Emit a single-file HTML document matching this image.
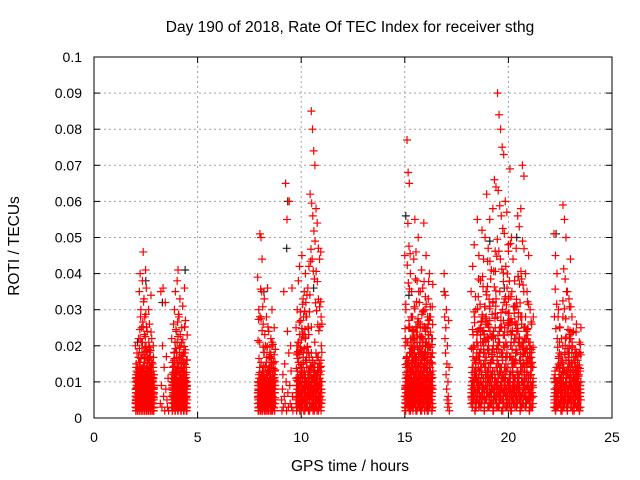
<!DOCTYPE html>
<html><head><meta charset="utf-8"><style>
body{margin:0;background:#fff;}
svg{display:block;font-family:"Liberation Sans",sans-serif;}
</style></head><body>
<svg id="c" width="640" height="480"></svg>
<script>
const xTicks=[0,5,10,15,20,25];
const yTicks=[0,0.01,0.02,0.03,0.04,0.05,0.06,0.07,0.08,0.09,0.1];
const yTickLabels=["0","0.01","0.02","0.03","0.04","0.05","0.06","0.07","0.08","0.09","0.1"];
// passes: [startHour,endHour], values in 1e-3 TECU/min, evenly sampled across pass
const passA=[2.0,2.9];
const passAlow=[3,5,2,8,4,6,3,10,2,7,5,12,3,4,9,2,6,11,3,5,8,2,4,7,13,3,6,2,9,5,4,10,3,7,2,6,12,4,3,8,5,2,9,6,3,11,4,7,2,5,8,3,14,6,4,2,9,5,3,7,10,4,2,6,3,8,5,12,2,4];
const passAhigh=[20,15,18,12,22,35,40,30,25,38,46,33,28,41,36,24,19,30,26,17,34,22,15,20,12];
const passB=[3.2,3.6];
const passBvals=[4,35,9,3,20,36,6,14,2,32,8,17,5,3,11,2];
const passC=[3.75,4.5];
const passClow=[3,6,2,9,4,7,3,11,5,2,8,4,13,6,3,10,2,5,7,4,12,3,6,9,2,15,5,3,8,4,11,2,6,18,3,7,4,10,2,5];
const passChigh=[22,14,26,30,35,24,38,41,28,33,20,25,31,18,36,27,16,23];
const passD=[7.9,8.75];
const passDlow=[4,2,7,3,9,5,2,11,6,3,8,2,14,4,7,3,10,5,2,6,12,3,8,4,2,9,5,13,3,6,2,10,4,7,3,11,5,2,8,4];
const passDhigh=[39,30,51,50,44,26,33,20,28,36,24,17,22,30,15,25,19];
const passE=[9.05,9.6];
const passEvals=[5,2,8,12,3,35,6,15,4,65,10,2,55,24,7,3,18,60,9,4,20,13,3,36,6,2];
const passF=[9.75,11.0];
const passFlow=[4,2,8,5,11,3,7,14,2,9,6,3,12,5,8,2,16,4,10,3,7,13,5,2,9,6,18,3,11,4,8,2,15,5,7,3,12,6,2,9,4,10,3,20,5];
const passFhigh=[25,30,38,42,27,45,33,35,40,28,36,42,62,85,80,74,70,58,54,47,44,46,26];
const passG=[15.0,16.35];
const passGlow=[3,6,2,9,5,12,4,8,15,3,11,6,2,18,7,4,13,9,3,20,5,10,2,16,8,4,22,6,12,3,9,17,5,2,14,7,11,4,19,6,3,10,25,8,5,13,2,16,7,21,4,9,12,3,18,6,24,10,5,15,8,2,20,11,4,27,7,14,3,9,17,5,12,6,2,22,8];
const passGhigh=[45,30,77,68,65,40,35,28,44,55,46,38,50,32,26,41,36,54,30,45,25,33,40,28,22,37];
const passH=[16.9,17.15];
const passHvals=[40,35,28,22,34,18,25,12,30,8,15,5,20,3,10,6,27,4,14,2];
const passI=[18.2,21.2];
const passIlow=[4,9,3,14,6,20,2,11,7,17,5,24,8,3,13,10,19,4,28,6,15,2,22,9,12,5,26,7,18,3,31,11,4,16,8,23,2,13,6,29,10,4,20,7,15,3,25,9,5,18,12,2,27,8,14,6,21,3,17,10,33,5,12,7,24,2,19,9,4,15,11,6,22,3,13,8,28,5,16,2,20,10,7,14,4,25,6,18,3,11,9,23,5,15,2,12,7,19,4,10,6];
const passIhigh=[35,42,48,30,55,45,38,52,44,50,62,47,55,41,58,66,64,90,84,80,75,73,60,57,48,69,50,44,38,47,56,53,58,70,67,40,35,45,30,26,28];
const passJ=[22.2,23.5];
const passJlow=[3,7,2,10,5,14,3,8,18,4,11,6,2,20,9,3,13,5,16,7,2,12,4,22,6,9,3,15,5,8,2,11,4,17,6,3,10,7,2,13,5];
const passJhigh=[51,45,40,30,25,22,59,55,50,35,33,44,28,24,19,26,17,21,25];
const blackPts=[[2.1,21],[2.5,38],[3.3,32],[4.4,41],[9.3,47],[9.35,60],[10.6,36],[15.05,56],[15.2,34],[19.1,49],[19.8,36],[20.4,50],[22.3,51],[16.9,35],[8.2,35]];

const svg=document.getElementById('c');
const NS='http://www.w3.org/2000/svg';
const X0=94,X1=612,Y0=418,Y1=57;
const sx=h=>X0+(h/25)*(X1-X0);
const sy=v=>Y0-(v/0.1)*(Y0-Y1);
function mk(tag,attrs,parent){const e=document.createElementNS(NS,tag);for(const k in attrs)e.setAttribute(k,attrs[k]);(parent||svg).appendChild(e);return e;}

const grid=mk('g',{});


xTicks.forEach(t=>{const x=sx(t);
 if(t>0&&t<25)mk('line',{x1:x,y1:Y0,x2:x,y2:Y1,stroke:'#a0a0a0','stroke-dasharray':'2,3','stroke-width':1},grid);
 mk('line',{x1:x,y1:Y0,x2:x,y2:Y0-6,stroke:'#000'},grid);mk('line',{x1:x,y1:Y1,x2:x,y2:Y1+6,stroke:'#000'},grid);
 const tx=mk('text',{x:x,y:442,'text-anchor':'middle','font-size':14});tx.textContent=t;
 
 
});
yTicks.forEach((t,i)=>{const y=sy(t);
 if(i>0&&i<yTicks.length-1)mk('line',{x1:X0,y1:y,x2:X1,y2:y,stroke:'#a0a0a0','stroke-dasharray':'2,3','stroke-width':1},grid);
 mk('line',{x1:X0,y1:y,x2:X0+6,y2:y,stroke:'#000'},grid);mk('line',{x1:X1,y1:y,x2:X1-6,y2:y,stroke:'#000'},grid);
 const tx=mk('text',{x:82,y:y+5,'text-anchor':'end','font-size':14});tx.textContent=yTickLabels[i];
 
 
});

const marks=mk('g',{});


function plus(h,v,col){const x=sx(h),y=sy(v);
 mk('path',{d:`M${x-4},${y}h8M${x},${y-4}v8`,stroke:col,'stroke-width':1.2},marks);}
function drawPass(range,vals){const n=vals.length;
 vals.forEach((v,i)=>plus(range[0]+(n>1?i*(range[1]-range[0])/(n-1):0),v/1000,'#ff0000'));}
function drawPassOff(range,vals,off){const n=vals.length;const step=(range[1]-range[0])/n;
 vals.forEach((v,i)=>plus(range[0]+step*(i+off),v/1000,'#ff0000'));}
blackPts.forEach(p=>plus(p[0],p[1]/1000,'#202020'));
[[passA,passAlow],[passC,passClow],[passD,passDlow],[passF,passFlow],[passG,passGlow],[passI,passIlow],[passJ,passJlow]].forEach(p=>{
 drawPass(p[0],p[1]);
 drawPassOff(p[0],p[1].slice().reverse(),0.5);
 drawPassOff(p[0],p[1].map(v=>v>6?v-4:v+3),0.25);
 drawPassOff(p[0],p[1].map(v=>v>9?v-7:v+5),0.75);
 drawPassOff(p[0],p[1].slice().reverse().map(v=>v>5?v-2:v+6),0.1);
 drawPassOff(p[0],p[1].map(v=>v*1.4),0.6);
});
[[passA,passAhigh],[passC,passChigh],[passD,passDhigh],[passF,passFhigh],[passG,passGhigh],[passI,passIhigh],[passJ,passJhigh]].forEach(p=>{
 drawPassOff(p[0],p[1].map(v=>v*0.55),0.3);
 drawPassOff(p[0],p[1].slice().reverse().map(v=>v*0.4),0.7);
 drawPassOff(p[0],p[1].map(v=>v*0.7),0.9);
});
[[passA,passAhigh],[passB,passBvals],[passC,passChigh],[passD,passDhigh],[passE,passEvals],[passF,passFhigh],[passG,passGhigh],[passH,passHvals],[passI,passIhigh],[passJ,passJhigh]].forEach(p=>drawPass(p[0],p[1]));

const frame=mk('rect',{x:X0,y:Y1,width:X1-X0,height:Y0-Y1,fill:'none',stroke:'#000','stroke-width':1});


const title=mk('text',{x:350,y:32,'text-anchor':'middle','font-size':15.5});title.textContent='Day 190 of 2018, Rate Of TEC Index for receiver sthg';


const xt=mk('text',{x:350,y:471,'text-anchor':'middle','font-size':15.5});xt.textContent='GPS time / hours';


const yt=mk('text',{x:0,y:0,'text-anchor':'middle','font-size':15.5,transform:'translate(19,246) rotate(-90)'});yt.textContent='ROTI / TECUs';


</script>
</body></html>
